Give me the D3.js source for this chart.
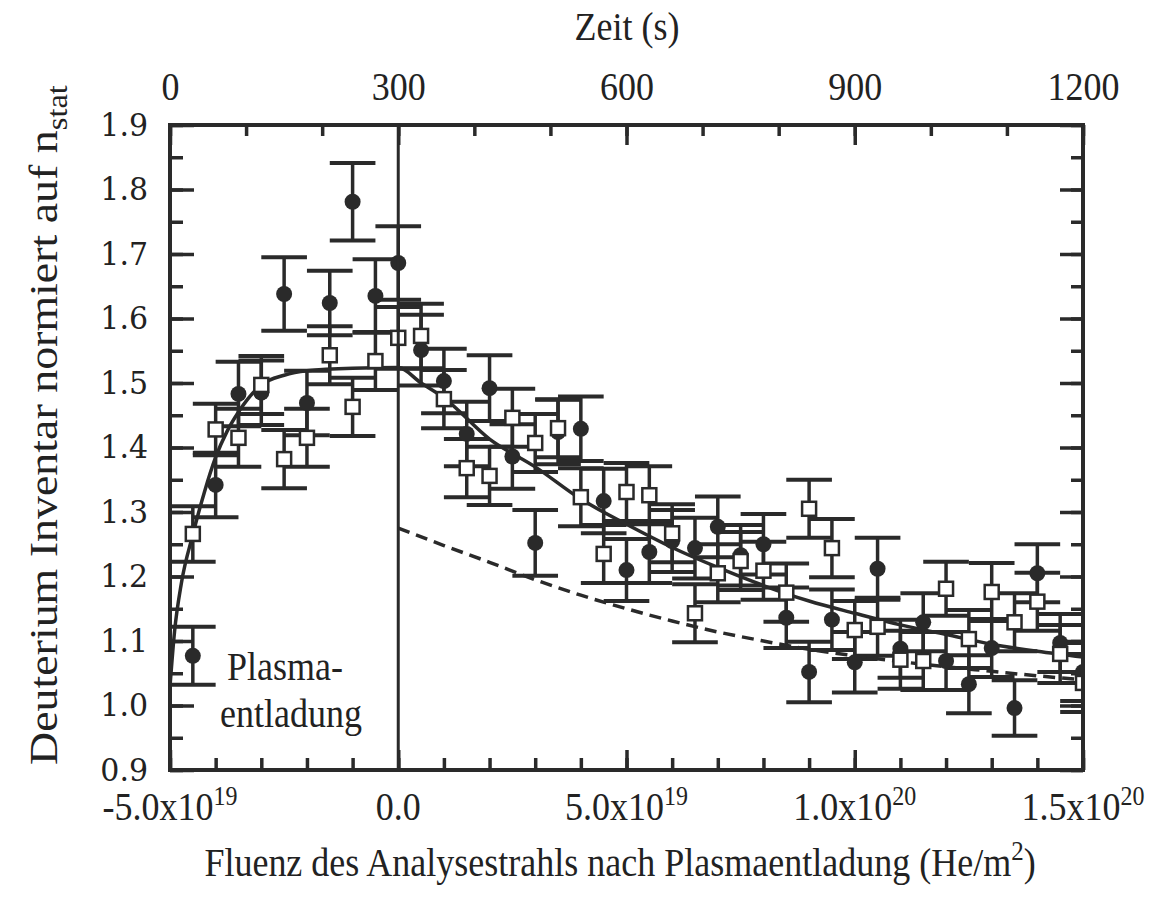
<!DOCTYPE html>
<html lang="de">
<head>
  <meta charset="UTF-8">
  <title>Deuterium Inventar</title>
  <script src="https://cdn.jsdelivr.net/npm/d3@7"></script>
  <style>
    body { margin: 0; background: #fff; }
  </style>
</head>
<body>
<script>
  // Fluenz in Einheiten von 1e19 He/m^2
  const fluenz = [-4.5, -4.0, -3.5, -3.0, -2.5, -2.0, -1.5, -1.0, -0.5, 0.0,
                  0.5, 1.0, 1.5, 2.0, 2.5, 3.0, 3.5, 4.0, 4.5, 5.0,
                  5.5, 6.0, 6.5, 7.0, 7.5, 8.0, 8.5, 9.0, 9.5, 10.0,
                  10.5, 11.0, 11.5, 12.0, 12.5, 13.0, 13.5, 14.0, 14.5, 15.0];

  // gefuellte Kreise
  const kreisWerte = [1.077, 1.342, 1.483, 1.485, 1.638, 1.469, 1.624, 1.781, 1.635, 1.686,
                      1.551, 1.503, 1.421, 1.492, 1.386, 1.252, 1.424, 1.429, 1.317, 1.210,
                      1.238, 1.255, 1.244, 1.277, 1.233, 1.250, 1.136, 1.052, 1.133, 1.067,
                      1.212, 1.088, 1.129, 1.069, 1.033, 1.089, 0.996, 1.205, 1.097, 1.052];
  const kreisFehler = [0.045, 0.050, 0.050, 0.050, 0.057, 0.050, 0.050, 0.060, 0.057, 0.057,
                       0.055, 0.050, 0.050, 0.051, 0.050, 0.051, 0.050, 0.050, 0.050, 0.048,
                       0.048, 0.048, 0.047, 0.047, 0.047, 0.047, 0.047, 0.047, 0.047, 0.047,
                       0.048, 0.045, 0.045, 0.045, 0.045, 0.045, 0.043, 0.045, 0.045, 0.045];

  // offene Quadrate
  const quadratWerte = [1.266, 1.428, 1.415, 1.497, 1.382, 1.415, 1.543, 1.463, 1.534, 1.570,
                        1.573, 1.475, 1.368, 1.356, 1.446, 1.407, 1.430, 1.323, 1.235, 1.331,
                        1.326, 1.267, 1.143, 1.205, 1.224, 1.209, 1.175, 1.305, 1.244, 1.117,
                        1.122, 1.071, 1.069, 1.181, 1.103, 1.176, 1.129, 1.161, 1.080, 1.035];
  const quadratFehler = [0.043, 0.040, 0.045, 0.045, 0.045, 0.045, 0.045, 0.045, 0.045, 0.048,
                         0.050, 0.045, 0.045, 0.045, 0.045, 0.045, 0.045, 0.045, 0.045, 0.045,
                         0.045, 0.045, 0.045, 0.045, 0.045, 0.045, 0.045, 0.045, 0.045, 0.045,
                         0.045, 0.045, 0.045, 0.042, 0.045, 0.045, 0.045, 0.045, 0.045, 0.045];

  // durchgezogene Anpassung
  const fitFluenz = [-5.0, -4.9, -4.75, -4.5, -4.25, -4.0, -3.75, -3.5, -3.0, -2.5, -2.0, -1.0, 0.0,
                     0.5, 1.0, 2.0, 3.0, 4.0, 5.0, 6.0, 7.0, 8.0, 9.0, 10.0, 11.0, 12.0, 13.0, 14.0, 15.0];
  const fitWerte = [1.030, 1.115, 1.190, 1.265, 1.330, 1.385, 1.425, 1.455, 1.497, 1.512, 1.519, 1.523, 1.524,
                    1.500, 1.477, 1.413, 1.370, 1.320, 1.281, 1.245, 1.214, 1.186, 1.162, 1.143, 1.125, 1.110, 1.095, 1.084, 1.075];

  // gestrichelte Kurve
  const strichFluenz = [0, 1, 2, 3, 4, 5, 6, 7, 8, 9, 10, 11, 12, 13, 14, 15];
  const strichWerte = [1.275, 1.248, 1.222, 1.195, 1.171, 1.150, 1.131, 1.114, 1.100, 1.087,
                       1.077, 1.068, 1.060, 1.053, 1.046, 1.040];

  const yTicks = [0.9, 1.0, 1.1, 1.2, 1.3, 1.4, 1.5, 1.6, 1.7, 1.8, 1.9];
  const zeitTicks = [0, 300, 600, 900, 1200];
  const fluenzTicks = [-5, 0, 5, 10, 15];
  const fluenzLabels = [["-5.0x10", "19"], ["0.0", ""], ["5.0x10", "19"], ["1.0x10", "20"], ["1.5x10", "20"]];

  const width = 1157, height = 899;
  const pLeft = 170, pRight = 1083, pTop = 125, pBottom = 770;
  const ink = "#2a2a2a";
  const serif = "'Liberation Serif', 'Times New Roman', serif";

  const x = d3.scaleLinear().domain([-5, 15]).range([pLeft, pRight]);
  const t = d3.scaleLinear().domain([0, 1200]).range([pLeft, pRight]);
  const y = d3.scaleLinear().domain([0.9, 1.9]).range([pBottom, pTop]);

  const svg = d3.select("body")
    .append("svg")
    .attr("width", width)
    .attr("height", height)
    .style("display", "block")
    .style("background", "#fff");

  const styleAxis = (g, labelFont, labelSize, stretch) => {
    g.select(".domain").remove();
    g.selectAll(".tick line").attr("stroke", ink).attr("stroke-width", 3.5);
    g.selectAll(".tick text")
      .attr("fill", "#222")
      .style("font-family", labelFont)
      .style("font-size", labelSize + "px")
      .attr("transform", `scale(1,${stretch})`);
  };

  // Nebenstriche
  const minorY = d3.range(18, 39).map(i => i / 20);
  svg.append("g").attr("transform", `translate(${pLeft},0)`)
    .call(d3.axisLeft(y).tickValues(minorY).tickSize(-13).tickFormat(""))
    .call(styleAxis, serif, 10, 1);
  svg.append("g").attr("transform", `translate(${pRight},0)`)
    .call(d3.axisRight(y).tickValues(minorY).tickSize(-12).tickFormat(""))
    .call(styleAxis, serif, 10, 1);
  svg.append("g").attr("transform", `translate(0,${pBottom})`)
    .call(d3.axisBottom(x).tickValues(d3.range(-5, 16)).tickSize(-12).tickFormat(""))
    .call(styleAxis, serif, 10, 1);
  svg.append("g").attr("transform", `translate(0,${pTop})`)
    .call(d3.axisTop(t).tickValues(d3.range(0, 1201, 100)).tickSize(-11).tickFormat(""))
    .call(styleAxis, serif, 10, 1);

  // Hauptstriche
  svg.append("g").attr("transform", `translate(${pLeft},0)`)
    .call(d3.axisLeft(y).tickValues(yTicks).tickSize(-24).tickPadding(22).tickFormat(d3.format(".1f")))
    .call(styleAxis, "'DejaVu Serif', serif", 30, 1.05);
  svg.append("g").attr("transform", `translate(${pRight},0)`)
    .call(d3.axisRight(y).tickValues(yTicks).tickSize(-23).tickFormat(""))
    .call(styleAxis, serif, 10, 1);
  svg.append("g").attr("transform", `translate(0,${pBottom})`)
    .call(d3.axisBottom(x).tickValues(fluenzTicks).tickSize(-20).tickFormat(""))
    .call(styleAxis, serif, 10, 1);
  svg.append("g").attr("transform", `translate(0,${pTop})`)
    .call(d3.axisTop(t).tickValues(zeitTicks).tickSize(-20).tickPadding(22).tickFormat(d3.format("d")))
    .call(styleAxis, serif, 36, 1.12);

  // untere Beschriftung mit Exponent
  const unten = svg.append("g");
  fluenzTicks.forEach((v, i) => {
    const txt = unten.append("text")
      .attr("transform", `translate(${x(v)},820) scale(1,1.12)`)
      .attr("text-anchor", "middle")
      .attr("fill", "#222")
      .style("font-family", serif)
      .style("font-size", "36px");
    txt.append("tspan").text(fluenzLabels[i][0]);
    if (fluenzLabels[i][1]) {
      txt.append("tspan").attr("dy", -13).style("font-size", "24px").text(fluenzLabels[i][1]);
    }
  });

  // Achsentitel
  svg.append("text")
    .attr("transform", "translate(627,40) scale(1,1.12)")
    .attr("text-anchor", "middle")
    .attr("fill", "#222")
    .style("font-family", serif)
    .style("font-size", "36px")
    .text("Zeit (s)");

  const xTitel = svg.append("text")
    .attr("transform", "translate(620,876) scale(1,1.12)")
    .attr("text-anchor", "middle")
    .attr("fill", "#222")
    .style("font-family", serif)
    .style("font-size", "36px");
  xTitel.append("tspan").text("Fluenz des Analysestrahls nach Plasmaentladung (He/m");
  xTitel.append("tspan").attr("dy", -14).style("font-size", "25px").text("2");
  xTitel.append("tspan").attr("dy", 14).text(")");

  const yTitel = svg.append("text")
    .attr("transform", "translate(57,765) scale(1,1.12) rotate(-90)")
    .attr("text-anchor", "start")
    .attr("fill", "#222")
    .style("font-family", serif)
    .style("font-size", "41px");
  yTitel.append("tspan").text("Deuterium Inventar normiert auf n");
  yTitel.append("tspan").attr("dy", 10).style("font-size", "29px").text("stat");

  // Daten
  svg.append("defs").append("clipPath").attr("id", "plot")
    .append("rect").attr("x", pLeft).attr("y", pTop).attr("width", pRight - pLeft).attr("height", pBottom - pTop);
  const plot = svg.append("g").attr("clip-path", "url(#plot)");

  const kreise = fluenz.map((f, i) => ({ f, v: kreisWerte[i], e: kreisFehler[i] }));
  const quadrate = fluenz.map((f, i) => ({ f, v: quadratWerte[i], e: quadratFehler[i] }));
  const kappe = x(0.5) - x(0);

  const fehlerBalken = (daten) => {
    const g = plot.append("g").attr("stroke", ink);
    g.selectAll(".bar").data(daten).enter().append("line")
      .attr("x1", d => x(d.f)).attr("x2", d => x(d.f))
      .attr("y1", d => y(d.v - d.e)).attr("y2", d => y(d.v + d.e))
      .attr("stroke-width", 3.5);
    g.selectAll(".cap-top").data(daten).enter().append("line")
      .attr("x1", d => x(d.f) - kappe).attr("x2", d => x(d.f) + kappe)
      .attr("y1", d => y(d.v + d.e)).attr("y2", d => y(d.v + d.e))
      .attr("stroke-width", 4);
    g.selectAll(".cap-bottom").data(daten).enter().append("line")
      .attr("x1", d => x(d.f) - kappe).attr("x2", d => x(d.f) + kappe)
      .attr("y1", d => y(d.v - d.e)).attr("y2", d => y(d.v - d.e))
      .attr("stroke-width", 4);
  };
  fehlerBalken(kreise);
  fehlerBalken(quadrate);

  const linie = d3.line().x(d => x(d[0])).y(d => y(d[1])).curve(d3.curveMonotoneX);
  plot.append("path")
    .attr("d", linie(fitFluenz.map((f, i) => [f, fitWerte[i]])))
    .attr("fill", "none").attr("stroke", ink).attr("stroke-width", 3.5);
  plot.append("path")
    .attr("d", linie(strichFluenz.map((f, i) => [f, strichWerte[i]])))
    .attr("fill", "none").attr("stroke", ink).attr("stroke-width", 3.5)
    .attr("stroke-dasharray", "12,7");

  plot.selectAll(".kreis").data(kreise).enter().append("circle")
    .attr("cx", d => x(d.f)).attr("cy", d => y(d.v)).attr("r", 8)
    .attr("fill", ink);
  plot.selectAll(".quadrat").data(quadrate).enter().append("rect")
    .attr("x", d => x(d.f) - 7).attr("y", d => y(d.v) - 7)
    .attr("width", 14).attr("height", 14)
    .attr("fill", "#fff").attr("stroke", ink).attr("stroke-width", 2.5);

  // Plasmaentladung bei Fluenz 0
  svg.append("line")
    .attr("x1", x(0)).attr("x2", x(0)).attr("y1", pTop).attr("y2", pBottom)
    .attr("stroke", ink).attr("stroke-width", 3);

  svg.append("rect")
    .attr("x", pLeft).attr("y", pTop).attr("width", pRight - pLeft).attr("height", pBottom - pTop)
    .attr("fill", "none").attr("stroke", ink).attr("stroke-width", 4);

  const plasma = svg.append("g")
    .attr("fill", "#222")
    .style("font-family", serif)
    .style("font-size", "36px");
  plasma.append("text").attr("transform", "translate(227,680) scale(1,1.12)").text("Plasma-");
  plasma.append("text").attr("transform", "translate(220,727) scale(1,1.12)").text("entladung");
</script>
</body>
</html>
